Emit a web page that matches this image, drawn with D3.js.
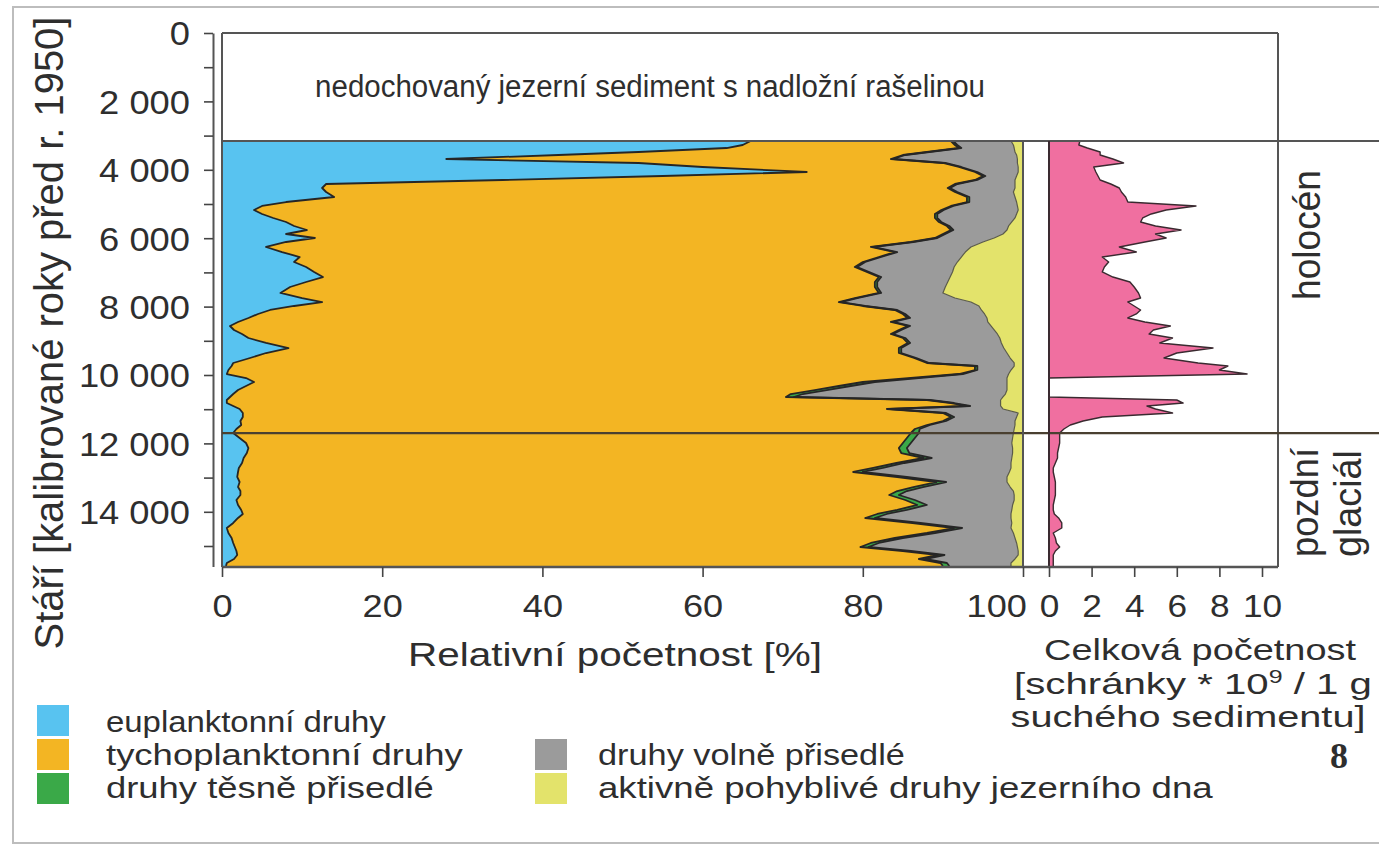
<!DOCTYPE html>
<html><head><meta charset="utf-8">
<script src="https://cdn.jsdelivr.net/npm/d3@7"></script>
<style>
body{margin:0;background:#fff}
svg{display:block}
text{font-family:"Liberation Sans",Arial,sans-serif;fill:#2e2e2e}
</style>
</head><body>
<svg id="c" width="1379" height="848"></svg>
<script>
// ---- data (ages in calibrated years BP) ----
const ages = [3158,3275,3363,3480,3567,3684,3801,3918,4064,4181,
4298,4415,4532,4649,4795,4942,5058,5175,5292,5409,
5526,5643,5760,5877,5994,6111,6257,6404,6550,6696,
6842,6988,7135,7281,7427,7602,7749,7866,7982,8099,
8216,8333,8450,8567,8684,8801,8918,9064,9211,9357,
9503,9649,9737,9854,9971,10088,10205,10322,10439,10556,
10643,10731,10819,10906,10994,11111,11228,11345,11462,11579,
11696,11842,11988,12135,12281,12427,12573,12719,12836,12982,
13129,13275,13392,13509,13655,13801,13947,14064,14181,14327,
14474,14620,14766,14912,15029,15146,15263,15380,15497,15585];

const euplankton = [66,65,63,52,42,28,52,60,73,55,
35,13,12.5,13,14,8,5,4,5,6.4,
8,9,10.6,8,11.6,8,5.5,7.5,9.7,9,
10.5,11.5,12.6,10.5,8.5,7.3,10,12.5,9,6,
4.5,3.3,2,1,1.5,2.5,3.3,5.5,8.3,5.5,
3.5,1.4,1.2,0.8,0.6,3,4,3,2,1.4,
1,0.6,0.6,1.4,2.2,2.6,2.6,2.3,2.4,1.8,
1.4,2.2,3,3.3,3.1,2.7,2.5,2.1,2,1.9,
2.2,2,2.3,2.3,1.8,2,2.4,2.6,2,1.4,
0.6,0.8,1.2,1.4,1.6,1.8,1.9,1.5,0.6,0.5];

const tychoplankton = [25,26.5,29,36,43,55.5,38,32,21,40,
59,78.5,78.1,78.5,79,85,86,85.8,84,82.6,
81.5,81.5,80.4,82,77.4,78,75.5,76.5,72.3,71,
68.5,69,69.4,71,73,74.7,69,64.5,71,78,
80.5,82.3,81.5,84.6,83,81,81.7,80.1,76.2,79,
82.9,86.6,92.8,93.2,91.4,83,76,74,72,69.6,
69.4,87.4,90.4,91.6,80.8,87.4,88.4,87.7,85.6,84.7,
84.6,83.3,82,81.2,81.7,84.9,81.7,79.2,76.8,82.4,
87,84.3,82,81,83.5,84.8,81.9,79.2,78.3,84.8,
90.8,87.2,82.8,79.6,78.1,83.2,87.5,85.5,89.1,89.5];

const tesnePrisedle = [0.3,0.3,0.3,0.3,0.3,0.3,0.3,0.3,0.3,0.3,
0.3,0.3,0.3,0.3,0.3,0.3,0.3,0.3,0.3,0.3,
0.3,0.3,0.3,0.3,0.3,0.3,0.3,0.3,0.3,0.3,
0.3,0.3,0.3,0.3,0.3,0.3,0.3,0.3,0.3,0.3,
0.3,0.3,0.3,0.3,0.3,0.3,0.3,0.3,0.3,0.3,
0.3,0.3,0.3,0.3,0.5,1,1.5,1.5,1.5,1.5,
1,0.4,0.4,0.4,0.4,0.4,0.4,0.4,0.4,0.6,
1,1,1,1,1,1,1,1.2,1.2,1.2,
1.2,1.2,1.2,1.2,1.2,1.2,1.2,1.2,1.2,1,
1,1,1,1,1,1,0.8,0.8,0.8,0.8];

const volnePrisedle = [7.2,7,6.6,10.7,13.9,15.5,9,7.1,5.1,3.9,
4.7,7.2,8.1,7,5.7,5.9,8,9.3,9.9,9.7,
8.8,7.4,6.7,7.2,7.1,8.7,12.2,8.5,10,11.5,
12.1,10.4,8.6,8.8,8.5,7.7,12.2,16.2,14.2,10.5,
9.9,9.6,11.8,10.1,11.6,13,11.8,11.4,12.8,13.2,
11.7,10.6,4.6,4.2,5.7,11,16.5,19.5,22.5,25.3,
26.1,8.8,5.8,3.8,14.1,9,7.8,8.6,10.6,11.8,
11.8,12.2,12.6,13.2,12.9,10,13.3,16,18.3,12.5,
7.6,10.9,13.3,14.4,12.4,10.7,13.1,15.5,17,11.4,
6.1,9.8,14,17.2,18.6,13.4,9.2,11.2,8,7.7];

const aktivnePohyblive = [1.5,1.2,1.1,1,0.8,0.7,0.7,0.6,0.6,0.8,
1,1,1,1.2,1,0.8,0.7,0.6,0.8,1,
1.4,1.8,2,2.5,3.6,5,6.5,7.2,7.7,8.2,
8.6,8.8,9.1,9.4,9.7,10,8.5,6.5,5.5,5.2,
4.8,4.5,4.4,4,3.6,3.2,2.9,2.7,2.4,2,
1.6,1.1,1.1,1.5,1.8,2,2,2,2,2.2,
2.5,2.8,2.8,2.8,2.5,0.6,0.8,1,1,1.1,
1.2,1.3,1.4,1.3,1.3,1.4,1.5,1.5,1.7,2,
2,1.6,1.2,1.1,1.1,1.3,1.4,1.5,1.5,1.4,
1.5,1.2,1,0.8,0.7,0.6,0.6,1,1.5,1.5];

const celkovaPocetnost = [1.45,1.4,1.8,2.4,2.4,3,3.5,2.1,2.2,2.3,
2.4,2.9,3.3,3.4,3.6,3.7,6.9,5.5,4.8,4.4,
4.3,5,6.2,5,5.5,4.5,3.3,4.1,2.5,2.8,
2.6,2.5,3,3.8,4,4.2,4.3,3.7,4,4.3,
4.1,3.7,4.5,5.7,4.9,4.7,5.8,5.2,7.7,6,
5.4,7,8.4,8,9.3,0,0,0,0,0,
0,6,6.3,4.6,5,5.8,2.5,1.6,1,0.7,
0.5,0.5,0.5,0.45,0.4,0.4,0.3,0.2,0.2,0.25,
0.3,0.3,0.3,0.3,0.25,0.2,0.2,0.25,0.45,0.6,
0.6,0.2,0.3,0.35,0.5,0.3,0.2,0.2,0.2,0.2];

const ageTicks = [0,1000,2000,3000,4000,5000,6000,7000,8000,9000,10000,11000,12000,13000,14000,15000];
const relTicks = [0,20,40,60,80,100];
const totTicks = [0,2,4,6,8,10];
const seriesKeys = ["euplankton","tychoplankton","tesne","volne","aktivne"];
const seriesLabels = ["euplanktonní druhy","tychoplanktonní druhy","druhy těsně přisedlé","druhy volně přisedlé","aktivně pohyblivé druhy jezerního dna"];
const seriesColors = ["#58c3f0","#f3b523","#3aa948","#9b9b9b","#e3e36b"];
const pinkColor = "#f06fa0";
const holoceneBoundary = 11700;
const unpreservedTop = 3158;

// ---- drawing ----
const svg = d3.select("#c");
const y = d3.scaleLinear().domain([0, 15600]).range([33, 33 + 15600 * 0.0342]);
const x = d3.scaleLinear().domain([0, 100]).range([222, 1023]);
const xt = d3.scaleLinear().domain([0, 10]).range([1049, 1262]);
const yBottom = 567;

function label(parent, str, o) {
  const g = parent.append("g").attr("transform", `translate(${o.x},${o.y}) rotate(${o.rot || 0})`);
  const t = g.append("text").attr("text-anchor", o.anchor || "start")
    .attr("font-size", o.size).text(str);
  if (o.family) t.style("font-family", o.family);
  if (o.weight) t.attr("font-weight", o.weight);
  if (o.len) {
    const w = t.node().getComputedTextLength();
    t.attr("transform", `scale(${o.len / w},1)`);
  }
  return t;
}

// outer frame
svg.append("rect").attr("x", 13).attr("y", 7).attr("width", 1390).attr("height", 836)
  .attr("fill", "none").attr("stroke", "#bdbdbd").attr("stroke-width", 2);

// stacked areas
const rows = ages.map((a, i) => ({age: a, euplankton: euplankton[i], tychoplankton: tychoplankton[i],
  tesne: tesnePrisedle[i], volne: volnePrisedle[i], aktivne: aktivnePohyblive[i]}));
const stacked = d3.stack().keys(seriesKeys)(rows);
const area = d3.area().y(d => y(d.data.age)).x0(d => x(d[0])).x1(d => x(d[1]));
svg.append("clipPath").attr("id", "clipMain").append("rect")
  .attr("x", x(0)).attr("y", y(unpreservedTop)).attr("width", x(100) - x(0)).attr("height", yBottom - y(unpreservedTop));
const gMain = svg.append("g").attr("clip-path", "url(#clipMain)");
gMain.selectAll("path.layer").data(stacked).join("path").attr("class", "layer")
  .attr("d", area).attr("fill", (d, i) => seriesColors[i]);
const bline = d3.line().y(d => y(d.data.age)).x(d => x(d[1]));
gMain.selectAll("path.bd").data(stacked.slice(0, 4)).join("path").attr("class", "bd")
  .attr("d", bline).attr("fill", "none")
  .attr("stroke", (d, i) => i === 3 ? "#5a5a4a" : "#262626")
  .attr("stroke-width", (d, i) => i === 3 ? 1.2 : 1.8).attr("stroke-linejoin", "round");

// total abundance panel
const pinkArea = d3.area().y((d, i) => y(ages[i])).x0(xt(0)).x1(d => xt(d));
const pinkLine = d3.line().y((d, i) => y(ages[i])).x(d => xt(d));
svg.append("path").datum(celkovaPocetnost).attr("d", pinkArea).attr("fill", pinkColor);
svg.append("path").datum(celkovaPocetnost).attr("d", pinkLine).attr("fill", "none")
  .attr("stroke", "#3a2a30").attr("stroke-width", 1.4).attr("stroke-linejoin", "round");

// frame lines
const frame = svg.append("g").attr("stroke", "#555").attr("stroke-width", 2).attr("fill", "none");
frame.append("line").attr("x1", x(0)).attr("x2", 1278).attr("y1", y(0)).attr("y2", y(0));
frame.append("line").attr("x1", x(0)).attr("x2", x(0)).attr("y1", y(0)).attr("y2", yBottom);
frame.append("line").attr("x1", 1278).attr("x2", 1278).attr("y1", y(0)).attr("y2", yBottom);
frame.append("line").attr("x1", x(0)).attr("x2", 1379).attr("y1", y(unpreservedTop)).attr("y2", y(unpreservedTop));
frame.append("line").attr("x1", x(0)).attr("x2", 1379).attr("y1", y(holoceneBoundary)).attr("y2", y(holoceneBoundary)).attr("stroke", "#4a4030").attr("stroke-width", 2.4);
frame.append("line").attr("x1", x(100)).attr("x2", x(100)).attr("y1", y(unpreservedTop)).attr("y2", yBottom);
frame.append("line").attr("x1", xt(0)).attr("x2", xt(0)).attr("y1", y(unpreservedTop)).attr("y2", yBottom).attr("stroke", "#3a2a30");
frame.append("line").attr("x1", x(0)).attr("x2", 1278).attr("y1", yBottom).attr("y2", yBottom).attr("stroke-width", 2.6);

// title in the unpreserved section
label(svg, "nedochovaný jezerní sediment s nadložní rašelinou", {x: 650, y: 97, size: 31, anchor: "middle", len: 670});

// y axis
const fmt = d => d === 0 ? "0" : d3.format(",")(d).replace(/,/g, " ");
const yAxis = svg.append("g").attr("transform", "translate(213,0)")
  .call(d3.axisLeft(y).tickValues(ageTicks).tickSize(9).tickSizeOuter(0).tickPadding(12)
    .tickFormat(d => d % 2000 === 0 ? fmt(d) : ""));
yAxis.select(".domain").attr("stroke", "#555").attr("stroke-width", 2);
yAxis.selectAll(".tick line").attr("stroke", "#444").attr("stroke-width", 1.6);
yAxis.selectAll(".tick text").attr("font-size", 33).attr("font-family", "Liberation Sans")
  .attr("fill", "#2e2e2e").attr("transform", "scale(1.1,1)").attr("dy", "0.36em");

// x axis main
const xAxis = svg.append("g").attr("transform", `translate(0,${yBottom})`)
  .call(d3.axisBottom(x).tickValues(relTicks).tickSize(10).tickSizeOuter(0).tickPadding(17).tickFormat(d3.format("d")));
xAxis.select(".domain").remove();
xAxis.selectAll(".tick line").attr("stroke", "#444").attr("stroke-width", 1.6);
xAxis.selectAll(".tick text").attr("font-size", 32).attr("font-family", "Liberation Sans")
  .attr("fill", "#2e2e2e").attr("transform", "scale(1.13,1)");
xAxis.selectAll(".tick text").filter(d => d === 100).attr("text-anchor", "end").attr("x", 3);

// x axis total abundance
const tAxis = svg.append("g").attr("transform", `translate(0,${yBottom})`)
  .call(d3.axisBottom(xt).tickValues(totTicks).tickSize(10).tickSizeOuter(0).tickPadding(17).tickFormat(d3.format("d")));
tAxis.select(".domain").remove();
tAxis.selectAll(".tick line").attr("stroke", "#444").attr("stroke-width", 1.6);
tAxis.selectAll(".tick text").attr("font-size", 32).attr("font-family", "Liberation Sans")
  .attr("fill", "#2e2e2e").attr("transform", "scale(1.1,1)");

// axis titles
label(svg, "Stáří [kalibrované roky před r. 1950]", {x: 63, y: 333, rot: -90, size: 40, anchor: "middle", len: 633});
label(svg, "Relativní početnost [%]", {x: 615, y: 666, size: 34, anchor: "middle", len: 414});
label(svg, "Celková početnost", {x: 1200, y: 660, size: 29, anchor: "middle", len: 312});
{
  const g = svg.append("g").attr("transform", "translate(1193,694)");
  const t = g.append("text").attr("text-anchor", "middle").attr("font-size", 29);
  t.append("tspan").text("[schránky * 10");
  t.append("tspan").attr("font-size", 18).attr("dy", -11).text("9");
  t.append("tspan").attr("dy", 11).text(" / 1 g");
  const w = t.node().getComputedTextLength();
  t.attr("transform", `scale(${358 / w},1)`);
}
label(svg, "suchého sedimentu]", {x: 1188, y: 727, size: 29, anchor: "middle", len: 355});
label(svg, "8", {x: 1339, y: 768, size: 36, anchor: "middle", weight: "bold", family: "'Liberation Serif', serif"});

// stratigraphy labels
label(svg, "holocén", {x: 1320, y: 235, rot: -90, size: 38, anchor: "middle", len: 130});
label(svg, "pozdní", {x: 1318, y: 557, rot: -90, size: 38, anchor: "start", len: 109});
label(svg, "glaciál", {x: 1361, y: 557, rot: -90, size: 38, anchor: "start", len: 107});

// legend
const legendPos = [
  {sx: 37, sy: 705, tx: 106, ty: 732, len: 280},
  {sx: 37, sy: 739, tx: 106, ty: 765, len: 357},
  {sx: 37, sy: 773, tx: 106, ty: 798, len: 328},
  {sx: 535, sy: 739, tx: 598, ty: 765, len: 307},
  {sx: 535, sy: 773, tx: 598, ty: 798, len: 615}
];
seriesLabels.forEach((lab, i) => {
  const p = legendPos[i];
  svg.append("rect").attr("x", p.sx).attr("y", p.sy).attr("width", 32).attr("height", 31).attr("fill", seriesColors[i]);
  label(svg, lab, {x: p.tx, y: p.ty, size: 29, len: p.len});
});
</script>
</body></html>
